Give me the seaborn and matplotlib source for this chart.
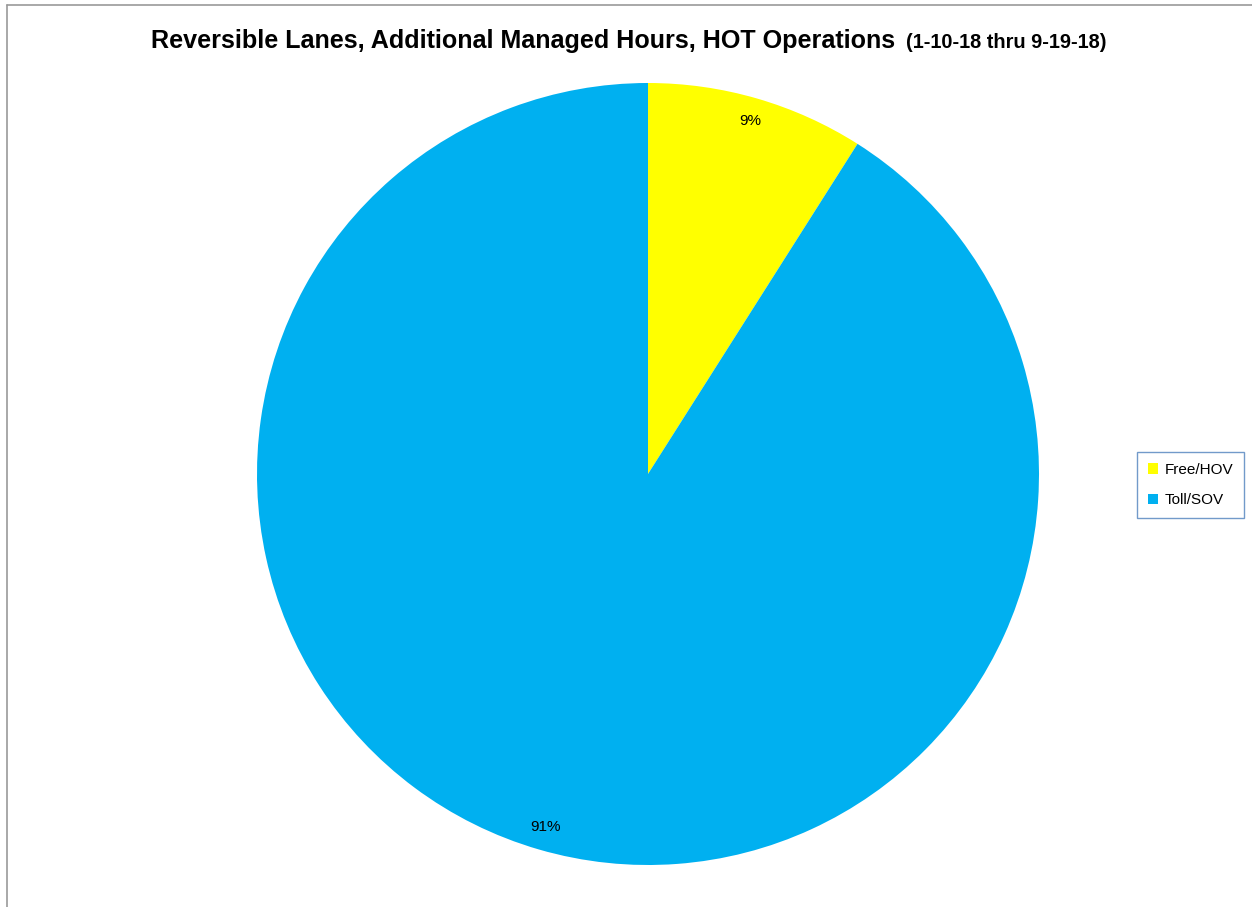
import numpy as np
import pandas as pd
import matplotlib
matplotlib.use("Agg")
import matplotlib.pyplot as plt
import seaborn as sns
from matplotlib.lines import Line2D
from matplotlib.patches import Patch

labels = ["Free/HOV", "Toll/SOV"]
shares = [9, 91]
colors = ["#FFFF00", "#00B0F0"]
title_main = "Reversible Lanes, Additional Managed Hours, HOT Operations"
title_sub = "(1-10-18 thru 9-19-18)"

sns.set_theme(style="white")
plt.rcParams['font.family'] = ['Liberation Sans', 'DejaVu Sans']
plt.rcParams['text.color'] = 'black'

df = pd.DataFrame({"label": labels, "share": shares})

fig = plt.figure(figsize=(12.52, 9.07), dpi=100)
W, H = 1252, 907

# pie centre ~(648, 474), radius ~391 px
ax = fig.add_axes([(648 - 391) / W, (907 - 474 - 391) / H, 782 / W, 782 / H])
wedges, texts = ax.pie(
    df["share"], colors=colors, startangle=90, counterclock=False,
    labels=[f"{v}%" for v in df["share"]], labeldistance=0.94,
    textprops=dict(fontsize=11, color="black", ha="center", va="center"),
    wedgeprops=dict(linewidth=0),
)
ax.set_xlim(-1, 1)
ax.set_ylim(-1, 1)
ax.set_aspect("equal")
ax.axis("off")

# title: bold main part plus smaller bold date range
fig.text(895 / W, 1 - 41 / H, title_main, fontsize=18.1, fontweight="bold",
         ha="right", va="center")
fig.text(1107 / W, 1 - 43 / H, title_sub, fontsize=14.4, fontweight="bold",
         ha="right", va="center")

# legend
handles = [Patch(facecolor=c, edgecolor="none", label=l) for c, l in zip(colors, labels)]
leg = fig.legend(handles=handles, loc="center left",
                 bbox_to_anchor=(1137 / W, 1 - 485 / H), frameon=True,
                 fontsize=11, handlelength=0.7, handleheight=0.7,
                 handletextpad=0.4, labelspacing=1.1, borderpad=0.7,
                 borderaxespad=0, fancybox=False)
leg.get_frame().set_edgecolor("#4F81BD")
leg.get_frame().set_linewidth(1.0)

# chart area border (top and left visible)
fig.add_artist(Line2D([6.5 / W, 6.5 / W], [0, 1 - 4.5 / H], transform=fig.transFigure,
                      color="#999999", linewidth=1.2))
fig.add_artist(Line2D([6.5 / W, 1], [1 - 4.5 / H, 1 - 4.5 / H], transform=fig.transFigure,
                      color="#999999", linewidth=1.2))

fig.savefig("out.png", dpi=100)
